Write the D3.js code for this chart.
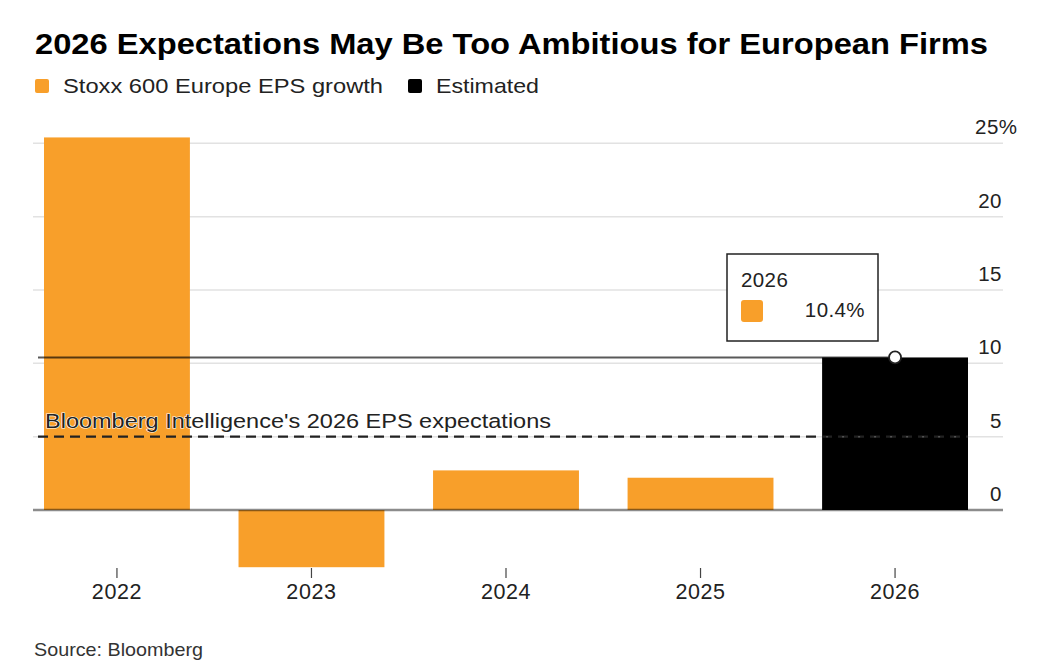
<!DOCTYPE html>
<html>
<head>
<meta charset="utf-8">
<script src="https://cdn.jsdelivr.net/npm/d3@7"></script>
<style>
  body { margin: 0; background: #fff; }
  text { font-family: "Liberation Sans", Arial, sans-serif; }
</style>
</head>
<body>
<svg id="chart" width="1039" height="669"></svg>
<script>
// values
var years = ["2022", "2023", "2024", "2025", "2026"];
var growth = [25.4, -3.9, 2.7, 2.2, 10.4];
var estimated = [false, false, false, false, true];
var yTicks = [0, 5, 10, 15, 20, 25];
var biExpectation = 5;       // Bloomberg Intelligence 2026 EPS expectation
var highlightYear = "2026";

var orange = "#f89f2a";

var svg = d3.select("#chart");

var x = d3.scaleBand()
    .domain(years)
    .range([44, 968])
    .paddingInner(0.25)
    .paddingOuter(0);

var y = d3.scaleLinear()
    .domain([0, 25])
    .range([510, 143.3]);

var gridLeft = 33, gridRight = 1003;

// title + legend (the Bloomberg face is wider than Arial, so stretch to width)
svg.append("text")
    .attr("x", 35).attr("y", 54)
    .attr("textLength", 953).attr("lengthAdjust", "spacingAndGlyphs")
    .style("font-size", "29.5px").style("font-weight", "bold").style("fill", "#000")
    .text("2026 Expectations May Be Too Ambitious for European Firms");

var legend = [{label: "Stoxx 600 Europe EPS growth", color: orange, x: 35, w: 320},
              {label: "Estimated", color: "#000", x: 408, w: 103}];
var lg = svg.selectAll("g.legend").data(legend).enter().append("g")
    .attr("class", "legend")
    .attr("transform", function(d) { return "translate(" + d.x + ",0)"; });
lg.append("rect")
    .attr("x", 0).attr("y", 79).attr("width", 14).attr("height", 14)
    .attr("rx", 2).style("fill", function(d) { return d.color; });
lg.append("text")
    .attr("x", 28).attr("y", 93)
    .attr("textLength", function(d) { return d.w; }).attr("lengthAdjust", "spacingAndGlyphs")
    .style("font-size", "21px").style("fill", "#222")
    .text(function(d) { return d.label; });

// gridlines
svg.append("g").selectAll("line")
    .data(yTicks.filter(function(d) { return d !== 0; }))
    .enter().append("line")
    .attr("x1", gridLeft).attr("x2", gridRight)
    .attr("y1", function(d) { return y(d); })
    .attr("y2", function(d) { return y(d); })
    .style("stroke", "#e2e2e2").style("stroke-width", 1.5);

// y labels, right side, sitting above their gridline
svg.append("g").selectAll("text")
    .data(yTicks)
    .enter().append("text")
    .attr("x", 1002)
    .attr("y", function(d) { return y(d) - 9; })
    .style("font-size", "20.5px").style("letter-spacing", "0.5px").style("fill", "#222")
    .attr("text-anchor", function(d) { return d === 25 ? "start" : "end"; })
    .attr("dx", function(d) { return d === 25 ? -27 : 0; })
    .text(function(d) { return d === 25 ? d + "%" : d; });

// bars
var data = years.map(function(yr, i) {
  return {year: yr, value: growth[i], est: estimated[i]};
});
svg.append("g").selectAll("rect")
    .data(data)
    .enter().append("rect")
    .attr("x", function(d) { return x(d.year); })
    .attr("width", x.bandwidth())
    .attr("y", function(d) { return y(Math.max(0, d.value)); })
    .attr("height", function(d) { return Math.abs(y(d.value) - y(0)); })
    .style("fill", function(d) { return d.est ? "#000" : orange; });

// zero line
svg.append("line")
    .attr("x1", gridLeft).attr("x2", gridRight)
    .attr("y1", y(0)).attr("y2", y(0))
    .style("stroke", "#000").style("stroke-opacity", 0.45).style("stroke-width", 2.5);

// BI expectation dashed line
var dashEnd = x("2026") + x.bandwidth();
svg.append("line")
    .attr("x1", 38).attr("x2", dashEnd)
    .attr("y1", y(biExpectation)).attr("y2", y(biExpectation))
    .style("stroke", "#222").style("stroke-width", 2.2)
    .style("stroke-dasharray", "10,6");
// faint dots where it crosses the black bar
svg.append("line")
    .attr("x1", x("2026") + 4).attr("x2", dashEnd)
    .attr("y1", y(biExpectation)).attr("y2", y(biExpectation))
    .style("stroke", "#555").style("stroke-width", 1.5)
    .style("stroke-dasharray", "2,14");

svg.append("text")
    .attr("x", 45).attr("y", y(biExpectation) - 9)
    .attr("textLength", 506).attr("lengthAdjust", "spacingAndGlyphs")
    .style("font-size", "20.5px").style("fill", "#222")
    .style("paint-order", "stroke").style("stroke", "#fff").style("stroke-width", 1.2)
    .text("Bloomberg Intelligence's 2026 EPS expectations");

// x axis ticks and labels
var xa = svg.append("g").selectAll("g")
    .data(years)
    .enter().append("g")
    .attr("transform", function(d) { return "translate(" + (x(d) + x.bandwidth() / 2) + ",0)"; });
xa.append("line")
    .attr("y1", 568).attr("y2", 578)
    .style("stroke", "#444").style("stroke-width", 1.2);
xa.append("text")
    .attr("y", 599).attr("text-anchor", "middle")
    .style("font-size", "21.5px").style("letter-spacing", "0.6px").style("fill", "#222")
    .text(function(d) { return d; });

// hover state on 2026: level line, dot and tooltip
var hi = years.indexOf(highlightYear);
var hx = x(highlightYear) + x.bandwidth() / 2;
var hy = y(growth[hi]);

svg.append("line")
    .attr("x1", 38).attr("x2", hx)
    .attr("y1", hy).attr("y2", hy)
    .style("stroke", "#000").style("stroke-opacity", 0.65).style("stroke-width", 2);

svg.append("circle")
    .attr("cx", hx).attr("cy", hy).attr("r", 6)
    .style("fill", "#fff").style("stroke", "#222").style("stroke-width", 1.8);

var tip = svg.append("g").attr("transform", "translate(727,254)");
tip.append("rect")
    .attr("width", 151).attr("height", 87)
    .style("fill", "#fff").style("stroke", "#222").style("stroke-width", 1.5);
tip.append("text")
    .attr("x", 14).attr("y", 33)
    .style("font-size", "20.5px").style("letter-spacing", "0.4px").style("fill", "#222")
    .text(highlightYear);
tip.append("rect")
    .attr("x", 14).attr("y", 46).attr("width", 22).attr("height", 22).attr("rx", 3)
    .style("fill", orange);
tip.append("text")
    .attr("x", 138).attr("y", 63).attr("text-anchor", "end")
    .style("font-size", "20.5px").style("letter-spacing", "0.4px").style("fill", "#222")
    .text(d3.format(".1f")(growth[hi]) + "%");

// source
svg.append("text")
    .attr("x", 34).attr("y", 656)
    .attr("textLength", 169).attr("lengthAdjust", "spacingAndGlyphs")
    .style("font-size", "19px").style("fill", "#333")
    .text("Source: Bloomberg");
</script>
</body>
</html>
